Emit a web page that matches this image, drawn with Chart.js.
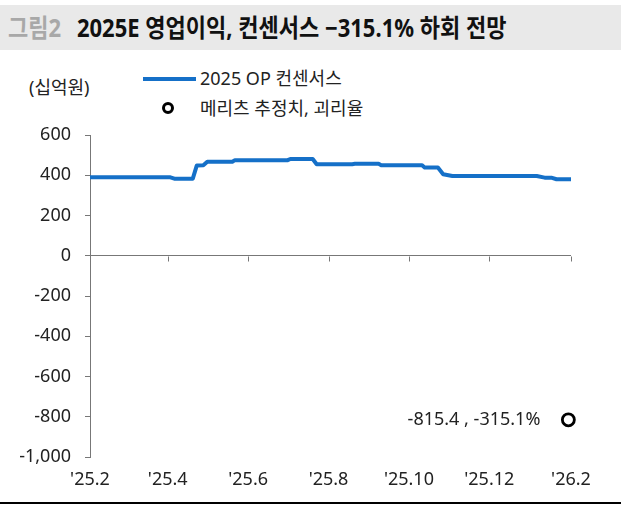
<!DOCTYPE html>
<html><head><meta charset="utf-8">
<script src="https://cdn.jsdelivr.net/npm/chart.js@4.4.1/dist/chart.umd.min.js"></script>
<style>
html,body{margin:0;padding:0;background:#fff;}
body{width:621px;height:509px;position:relative;overflow:hidden;font-family:"Noto Sans","Noto Sans CJK KR",sans-serif;}
#band{position:absolute;left:0;top:5px;width:621px;height:45px;background:#e9e9e9;}
#title{position:absolute;left:8px;top:5px;height:45px;line-height:45px;font-size:25px;font-weight:bold;color:#111;white-space:nowrap;transform:scaleX(0.88);transform-origin:0 50%;}
#title .fig{color:#a8a8a8;margin-right:18px;}
.txt{position:absolute;font-size:18px;color:#222;line-height:24px;white-space:nowrap;}
#legLine{position:absolute;left:143px;top:77px;width:53px;height:4px;background:#1570c8;}
#legDot{position:absolute;left:162px;top:102px;width:12px;height:12px;box-sizing:border-box;border:3px solid #000;border-radius:50%;background:#fff;}
#rule{position:absolute;left:0;top:502px;width:621px;height:2px;background:#000;}
canvas{position:absolute;left:0;top:0;}
</style></head>
<body>
<div id="band"></div>
<div id="title"><span class="fig">그림2</span>2025E 영업이익, 컨센서스 −315.1% 하회 전망</div>
<div class="txt" style="left:29px;top:75px;">(십억원)</div>
<div id="legLine"></div>
<div class="txt" style="left:200px;top:66px;">2025 OP 컨센서스</div>
<div id="legDot"></div>
<div class="txt" style="left:200px;top:96px;">메리츠 추정치, 괴리율</div>
<canvas id="c" width="621" height="509"></canvas>
<div id="rule"></div>
<script>
// ---- data ----
const lineDates = ['2025-02-01','2025-04-03','2025-04-06','2025-04-20','2025-04-23','2025-04-28','2025-05-01','2025-05-20','2025-05-22','2025-07-01','2025-07-03','2025-07-20','2025-07-23','2025-08-19','2025-08-21','2025-09-08','2025-09-10','2025-10-11','2025-10-13','2025-10-23','2025-10-27','2025-11-03','2026-01-06','2026-01-12','2026-01-17','2026-01-21','2026-02-01'];
const lineValues = [390,390,383,383,448,450,467,467,475,475,481,481,455,455,457,457,450,450,438,438,405,396,396,388,388,380,380];
const estDates = ['2026-01-30'];
const estValues = [-815.4];
const estLabels = ['-815.4 , -315.1%'];
const tickDates = ['2025-02-01','2025-04-01','2025-06-01','2025-08-01','2025-10-01','2025-12-01','2026-02-01'];
const tickLabels = ["'25.2","'25.4","'25.6","'25.8","'25.10","'25.12","'26.2"];
const yTickValues = [-1000,-800,-600,-400,-200,0,200,400,600];

const base = Date.UTC(2025,1,1);
const dayOf = s => { const [y,m,d] = s.split('-').map(Number); return Math.round((Date.UTC(y,m-1,d)-base)/86400000); };
const FONT = {family:"'Noto Sans', 'Noto Sans CJK KR', sans-serif", size:18};

const xTickMarks = {
  id:'xTickMarks',
  beforeDatasetsDraw(chart){
    const {ctx, scales:{x,y}} = chart;
    const y0 = Math.round(y.getPixelForValue(0)) + 0.5;
    ctx.save(); ctx.strokeStyle='#777'; ctx.lineWidth=1;
    x.ticks.forEach(t=>{ const px = Math.round(x.getPixelForValue(t.value))+0.5; ctx.beginPath(); ctx.moveTo(px,y0); ctx.lineTo(px,y0+5); ctx.stroke(); });
    ctx.restore();
  }
};
const estLabel = {
  id:'estLabel',
  afterDatasetsDraw(chart){
    const {ctx} = chart; const meta = chart.getDatasetMeta(1);
    ctx.save(); ctx.fillStyle='#222'; ctx.font = Chart.helpers.toFont(FONT).string; ctx.textAlign='right'; ctx.textBaseline='middle';
    meta.data.forEach((p,i)=>{ ctx.fillText(estLabels[i], p.x-28, p.y); });
    ctx.restore();
  }
};

new Chart(document.getElementById('c'), {
  type:'line',
  data:{datasets:[
    {data: lineDates.map((d,i)=>({x:dayOf(d), y:lineValues[i]})), borderColor:'#1570c8', borderWidth:4, pointRadius:0, tension:0, fill:false, borderJoinStyle:'round'},
    {type:'scatter', clip:false, data: estDates.map((d,i)=>({x:dayOf(d), y:estValues[i]})), pointRadius:6, pointBorderWidth:2.8, pointBorderColor:'#000', pointBackgroundColor:'#fff', borderColor:'#000', backgroundColor:'#fff'}
  ]},
  options:{
    responsive:false, animation:false,
    layout:{padding:{top:135,right:50,bottom:7,left:0}},
    plugins:{legend:{display:false}, tooltip:{enabled:false}},
    scales:{
      x:{type:'linear', min:0, max:dayOf(tickDates[tickDates.length-1]),
        afterBuildTicks: s => { s.ticks = tickDates.map(d=>({value:dayOf(d)})); },
        grid:{display:false, drawTicks:false}, border:{display:false},
        ticks:{autoSkip:false, maxRotation:0, color:'#222', font:FONT, padding:12, callback:(v,i)=>tickLabels[i]},
        afterFit: s => { s.height = 45; }
      },
      y:{min:-1000, max:600,
        afterBuildTicks: s => { s.ticks = yTickValues.map(v=>({value:v})); },
        border:{display:true, color:'#777', width:1},
        grid:{color: c => (c.tick && c.tick.value===0) ? '#777' : 'rgba(0,0,0,0)', tickColor:'#777', drawTicks:true, tickLength:5, lineWidth:1},
        ticks:{color:'#222', font:FONT, padding:14},
        afterFit: s => { s.width = 90; }
      }
    }
  },
  plugins:[xTickMarks, estLabel]
});
</script>
</body></html>
